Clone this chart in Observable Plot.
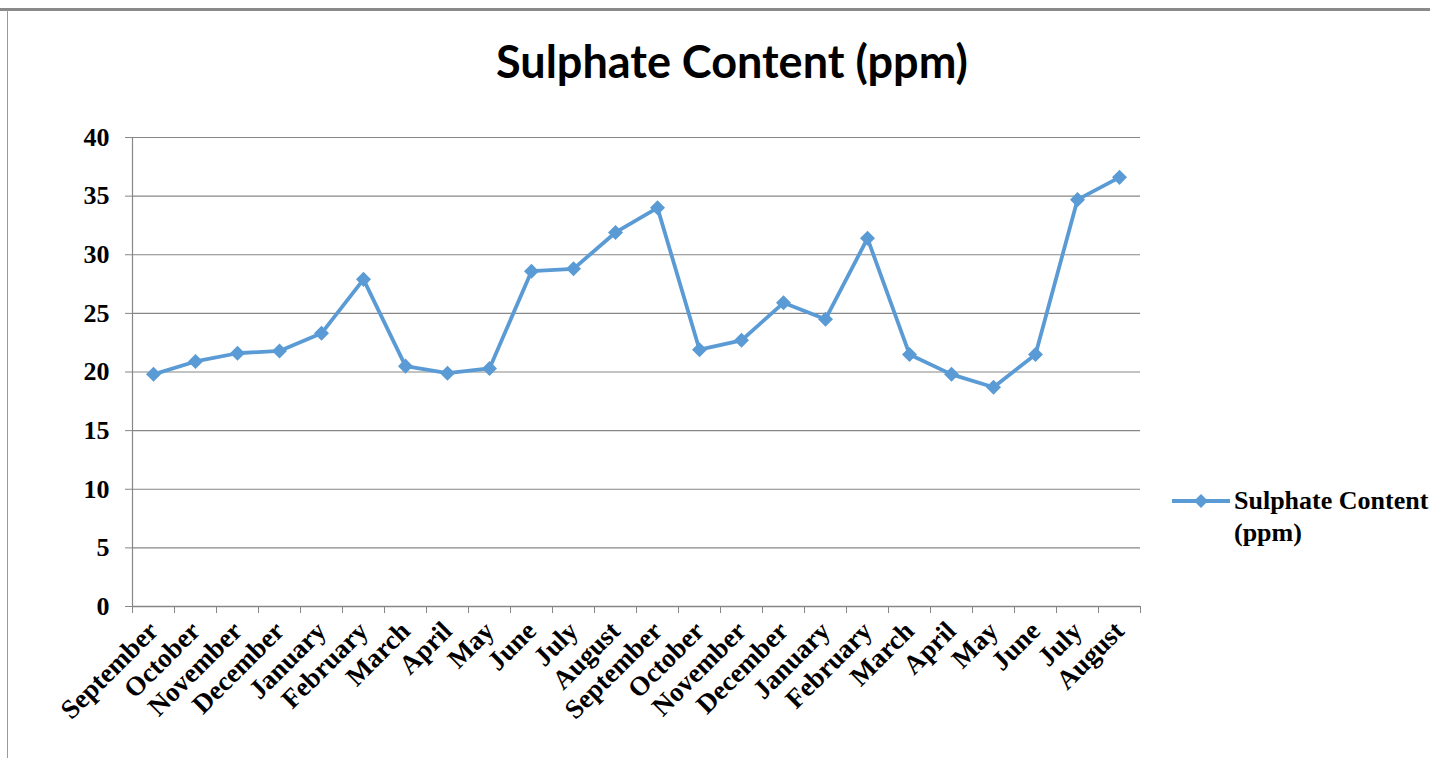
<!DOCTYPE html>
<html>
<head>
<meta charset="utf-8">
<script src="https://cdn.jsdelivr.net/npm/d3@7"></script>
<script src="https://cdn.jsdelivr.net/npm/@observablehq/plot@0.6"></script>
<style>
  html, body { margin: 0; padding: 0; background: #fff; }
  #wrap { position: relative; width: 1446px; height: 758px; overflow: hidden; background: #fff; }
  #topline { position: absolute; left: 0; top: 8px; width: 1430px; height: 3px; background: #8a8a8a; }
  #leftline { position: absolute; left: 7px; top: 10px; width: 1px; height: 748px; background: #9a9a9a; }
  #title { position: absolute; left: 200px; width: 1064px; top: 33px; text-align: center; line-height: 56px;
           font-family: Lato, "Open Sans", sans-serif; font-weight: bold; font-size: 45px; color: #000; }
  #chart { position: absolute; left: 0; top: 100px; }
  #legend { position: absolute; left: 1172px; top: 485px; display: flex; align-items: flex-start;
            font-family: "Liberation Serif", serif; font-weight: bold; font-size: 26px; line-height: 32px; color: #000; }
  #legend svg { margin-top: 9px; margin-right: 2px; }
</style>
</head>
<body>
<div id="wrap">
  <div id="topline"></div>
  <div id="leftline"></div>
  <div id="title">Sulphate Content (ppm)</div>
  <div id="chart"></div>
  <div id="legend"></div>
</div>
<script>
const months = ["September","October","November","December","January","February","March","April","May","June","July","August",
                "September","October","November","December","January","February","March","April","May","June","July","August"];
const values = [19.8, 20.9, 21.6, 21.8, 23.3, 27.9, 20.5, 19.9, 20.3, 28.6, 28.8, 31.9,
                34.0, 21.9, 22.7, 25.9, 24.5, 31.4, 21.5, 19.8, 18.7, 21.5, 34.7, 36.6];
const yTicks = [0, 5, 10, 15, 20, 25, 30, 35, 40];
const seriesName = "Sulphate Content (ppm)";
const lineColor = "#5B9BD5";
const gridColor = "#878787";

const data = months.map((m, i) => ({i, month: m, value: values[i]}));
const centers = d3.range(months.length);
const bounds = d3.range(months.length + 1).map(k => k - 0.5);

const chart = Plot.plot({
  width: 1446, height: 658,
  marginLeft: 132, marginRight: 306, marginTop: 37, marginBottom: 152,
  x: {domain: [-0.5, months.length - 0.5], axis: null},
  y: {domain: [0, 40], axis: null},
  style: {fontFamily: "'Liberation Serif', serif", fontWeight: "bold", color: "#000", background: "transparent"},
  marks: [
    Plot.gridY(yTicks.filter(d => d > 0), {stroke: gridColor, strokeOpacity: 1, strokeWidth: 1.2}),
    Plot.axisY(yTicks, {label: null, tickSize: 7, stroke: gridColor, strokeOpacity: 1, fontSize: 26, tickPadding: 16, fill: "#000"}),
    Plot.ruleX([-0.5], {y1: 0, y2: 40, stroke: gridColor, strokeWidth: 1.2}),
    Plot.ruleY([0], {stroke: gridColor, strokeWidth: 1.5}),
    Plot.axisX(bounds, {label: null, tickSize: 7, stroke: gridColor, strokeOpacity: 1, tickFormat: () => ""}),
    Plot.axisX(centers, {label: null, tickSize: 0, tickFormat: i => months[i], tickRotate: -45, fontSize: 27, tickPadding: 20, fill: "#000"}),
    Plot.line(data, {x: "i", y: "value", stroke: lineColor, strokeWidth: 3.8}),
    Plot.dot(data, {x: "i", y: "value", symbol: "square", rotate: 45, r: 6, fill: lineColor, stroke: "none"})
  ]
});
document.getElementById("chart").appendChild(chart);

const legend = document.getElementById("legend");
legend.innerHTML = `<svg width="60" height="14"><line x1="0" y1="7" x2="58" y2="7" stroke="${lineColor}" stroke-width="3.8"/>
  <path d="M29,0 L36,7 L29,14 L22,7 Z" fill="${lineColor}"/></svg><div>Sulphate Content<br>(ppm)</div>`;
</script>
</body>
</html>
